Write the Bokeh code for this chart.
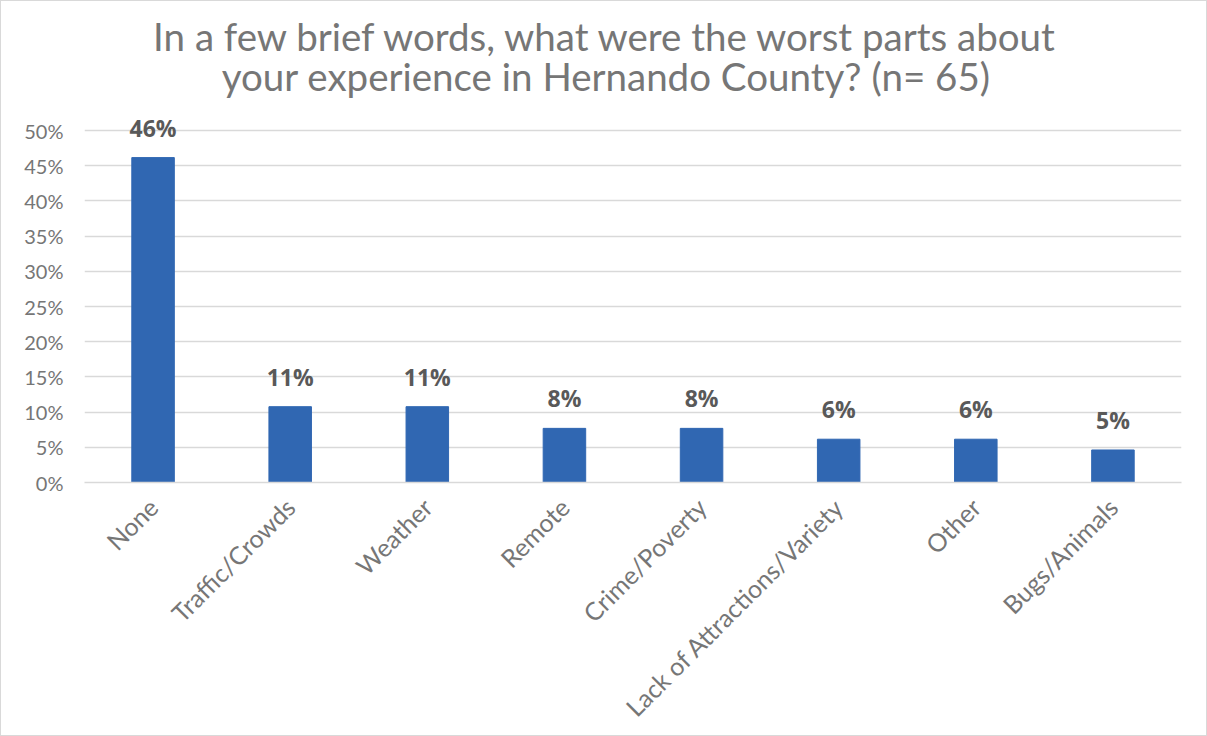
from bokeh.plotting import figure
from bokeh.models import ColumnDataSource, LabelSet, Label, FixedTicker, NumeralTickFormatter, FactorRange, Range1d
from bokeh.core.properties import value
from bokeh.embed import file_html
from bokeh.resources import INLINE
import math

categories = ["None", "Traffic/Crowds", "Weather", "Remote", "Crime/Poverty",
              "Lack of Attractions/Variety", "Other", "Bugs/Animals"]
values = [0.4615, 0.1077, 0.1077, 0.0769, 0.0769, 0.0615, 0.0615, 0.0462]
labels = ["46%", "11%", "11%", "8%", "8%", "6%", "6%", "5%"]
y_ticks = [0, 0.05, 0.10, 0.15, 0.20, 0.25, 0.30, 0.35, 0.40, 0.45, 0.50]
title_lines = ["In a few brief words, what were the worst parts about",
               "your experience in Hernando County? (n= 65)"]

FONT = "Lato"
GRAY = "#767676"

PX = 704.0          # pixels per 100% on the y axis
BOTTOM = 481        # pixel row of 0%

src = ColumnDataSource(dict(cat=categories, val=values, lab=labels))

p = figure(width=1207, height=736, output_backend="svg", toolbar_location=None,
           x_range=FactorRange(*categories, range_padding=0, factor_padding=0),
           y_range=Range1d(0, BOTTOM / PX),
           min_border_left=83, min_border_right=27, min_border_top=0,
           min_border_bottom=736 - BOTTOM)
p.vbar(x="cat", top="val", width=0.31, source=src, fill_color="#3067B2", line_color="#3067B2")

p.outline_line_color = None
p.background_fill_color = "white"
p.border_fill_color = "white"
p.styles = {"border": "1px solid #d9d9d9", "box-sizing": "border-box"}

p.xgrid.grid_line_color = None
p.ygrid.grid_line_color = "#d9d9d9"
p.ygrid.grid_line_width = 1.3

p.yaxis.ticker = FixedTicker(ticks=y_ticks)
p.yaxis.formatter = NumeralTickFormatter(format="0%")
p.yaxis.axis_line_color = None
p.yaxis.major_tick_line_color = None
p.yaxis.minor_tick_line_color = None
p.yaxis.major_label_standoff = 15
p.yaxis.major_label_text_font = FONT
p.yaxis.major_label_text_font_size = "20px"
p.yaxis.major_label_text_color = GRAY

p.xaxis.axis_line_color = "#d9d9d9"
p.xaxis.axis_line_width = 1.3
p.xaxis.major_tick_line_color = None
p.xaxis.minor_tick_line_color = None
p.xaxis.major_label_orientation = math.pi / 4
p.xaxis.major_label_standoff = 14
p.xaxis.major_label_text_font = FONT
p.xaxis.major_label_text_font_size = "25px"
p.xaxis.major_label_text_color = GRAY

ls = LabelSet(x="cat", y="val", text="lab", source=src, y_offset=14,
              text_align="center", text_baseline="bottom",
              text_font=value("Open Sans"), text_font_style="bold",
              text_font_size="23px", text_color="#595959")
p.add_layout(ls)

for i, t in enumerate(title_lines):
    p.add_layout(Label(x=3.805, y=(BOTTOM - 34 - 40 * i) / PX, text=t,
                       text_align="center", text_baseline="alphabetic",
                       text_font=FONT, text_font_size="38.5px", text_color=GRAY))

open("out.html", "w").write(file_html(p, INLINE))
